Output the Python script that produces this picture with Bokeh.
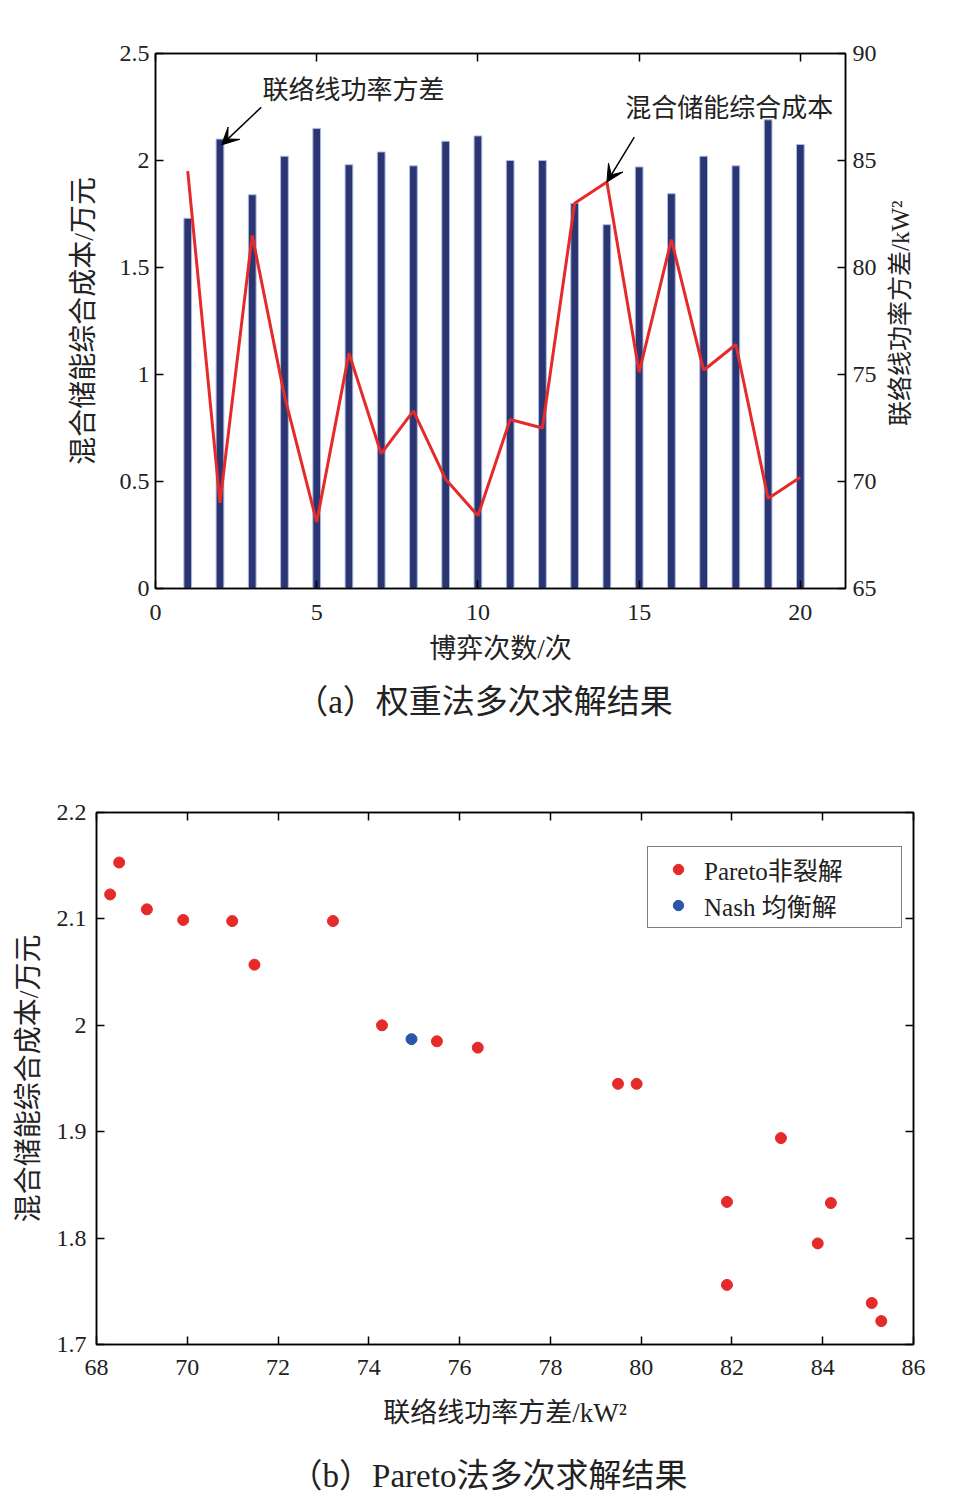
import math
from bokeh.plotting import figure
from bokeh.models import (Range1d, LinearAxis, FixedTicker, Arrow, VeeHead, Label,
                          Legend, LegendItem, CustomJSTickFormatter)
from bokeh.embed import file_html
from bokeh.resources import INLINE

# ---------------- data ----------------
games = list(range(1, 21))
cost_wan = [1.73, 2.10, 1.84, 2.02, 2.15, 1.98, 2.04, 1.975, 2.09, 2.115,
            2.00, 2.00, 1.80, 1.70, 1.97, 1.845, 2.02, 1.975, 2.19, 2.075]
variance_kw2 = [84.5, 69.0, 81.5, 74.0, 68.1, 76.0, 71.3, 73.3, 70.1, 68.4,
                72.9, 72.5, 83.0, 84.0, 75.1, 81.3, 75.2, 76.4, 69.2, 70.2]

pareto_var = [68.30, 68.50, 69.11, 69.91, 70.99, 71.48, 73.21, 74.29, 75.50, 76.40,
              79.49, 79.90, 83.08, 81.89, 84.18, 83.89, 81.89, 85.08, 85.29]
pareto_cost = [2.123, 2.153, 2.109, 2.099, 2.098, 2.057, 2.098, 2.000, 1.985, 1.979,
               1.945, 1.945, 1.894, 1.834, 1.833, 1.795, 1.756, 1.739, 1.722]
nash_var = [74.94]
nash_cost = [1.987]

a_x_ticks = [0, 5, 10, 15, 20]
a_y_ticks = [0, 0.5, 1, 1.5, 2, 2.5]
a_y_labels = ["0", "0.5", "1", "1.5", "2", "2.5"]
a_r_ticks = [65, 70, 75, 80, 85, 90]
b_x_ticks = [68, 70, 72, 74, 76, 78, 80, 82, 84, 86]
b_y_ticks = [1.7, 1.8, 1.9, 2.0, 2.1, 2.2]
b_y_labels = ["1.7", "1.8", "1.9", "2", "2.1", "2.2"]

FONT = "Liberation Serif, Noto Sans CJK SC"
BAR = "#2b3572"
BAR_EDGE = "#a9bde3"
RED = "#e52a2a"
BLUE = "#2a55a8"
TXT = "#222222"
NB = "\u00a0"


def style_axis(ax, show_labels=True, standoff=8, label_size="27px"):
    ax.axis_line_color = "black"
    ax.axis_line_width = 1.5
    ax.major_tick_in = 8
    ax.major_tick_out = 0
    ax.major_tick_line_color = "black"
    ax.major_tick_line_width = 1.5
    ax.minor_tick_line_color = None
    ax.major_label_text_font = FONT
    ax.major_label_text_color = TXT
    ax.major_label_standoff = standoff
    ax.major_label_text_font_size = "24px"
    if not show_labels:
        ax.formatter = CustomJSTickFormatter(code="return ''")
    ax.axis_label_text_font = FONT
    ax.axis_label_text_font_size = label_size
    ax.axis_label_text_font_style = "normal"
    ax.axis_label_text_color = TXT


def text_axis(text, size, standoff, **kw):
    """An axis with no line and no ticks that only carries a text."""
    ax = LinearAxis(ticker=FixedTicker(ticks=[]), **kw)
    ax.axis_line_color = None
    ax.major_tick_line_color = None
    ax.minor_tick_line_color = None
    ax.axis_label = text
    ax.axis_label_text_font = FONT
    ax.axis_label_text_font_size = size
    ax.axis_label_text_font_style = "normal"
    ax.axis_label_text_color = TXT
    ax.axis_label_standoff = standoff
    return ax


# ---------------- figure (a) ----------------
p1 = figure(width=950, height=745, output_backend="svg", toolbar_location=None,
            x_range=Range1d(0, 21.4), y_range=Range1d(0, 2.5),
            min_border_left=155, min_border_right=105, min_border_top=53,
            min_border_bottom=157)
p1.extra_y_ranges = {"var": Range1d(65, 90)}
p1.grid.visible = False
p1.outline_line_color = "black"
p1.outline_line_width = 1.5

p1.vbar(x=games, top=cost_wan, bottom=0, width=0.24, fill_color=BAR,
        line_color=BAR_EDGE, line_width=1)
p1.line(x=games, y=variance_kw2, y_range_name="var", line_color=RED, line_width=3)

xa = p1.xaxis[0]
xa.ticker = FixedTicker(ticks=a_x_ticks)
style_axis(xa, standoff=16)
xa.axis_label = "博弈次数/次"
xa.axis_label_standoff = 11

ya = p1.yaxis[0]
ya.ticker = FixedTicker(ticks=a_y_ticks)
ya.major_label_overrides = {t: l for t, l in zip(a_y_ticks, a_y_labels)}
style_axis(ya, standoff=6, label_size="28px")
ya.axis_label = "混合储能综合成本/万元"
ya.axis_label_standoff = 18

top1 = LinearAxis(ticker=FixedTicker(ticks=a_x_ticks))
style_axis(top1, show_labels=False, standoff=0)
p1.add_layout(top1, "above")

right1 = LinearAxis(y_range_name="var", ticker=FixedTicker(ticks=a_r_ticks))
style_axis(right1, standoff=7)
p1.add_layout(right1, "right")

rlab = text_axis(NB * 26 + "联络线功率方差/kW²", "25px", 21, y_range_name="var")
rlab.axis_label_orientation = math.pi / 2
try:
    rlab.axis_label_align = "start"
except Exception:
    pass
p1.add_layout(rlab, "right")

p1.add_layout(Arrow(end=VeeHead(size=17, fill_color="black", line_color="black"),
                    x_start=3.28, y_start=2.249, x_end=2.05, y_end=2.073,
                    line_color="black", line_width=1.5))
p1.add_layout(Arrow(end=VeeHead(size=17, fill_color="black", line_color="black"),
                    x_start=14.85, y_start=86.09, x_end=14.0, y_end=83.99,
                    y_range_name="var", line_color="black", line_width=1.5))
p1.add_layout(Label(x=3.32, y=2.327, text="联络线功率方差", text_font=FONT,
                    text_font_size="26px", text_baseline="middle", text_align="left",
                    text_color=TXT))
p1.add_layout(Label(x=14.57, y=2.243, text="混合储能综合成本", text_font=FONT,
                    text_font_size="26px", text_baseline="middle", text_align="left",
                    text_color=TXT))
p1.add_layout(text_axis("（a）权重法多次求解结果" + NB * 4, "33px", 17), "below")

# ---------------- figure (b) ----------------
p2 = figure(width=950, height=755, output_backend="svg", toolbar_location=None,
            x_range=Range1d(68, 86), y_range=Range1d(1.7, 2.2),
            min_border_left=96, min_border_right=37, min_border_top=67,
            min_border_bottom=156)
p2.grid.visible = False
p2.outline_line_color = "black"
p2.outline_line_width = 1.5

r_p = p2.scatter(x=pareto_var, y=pareto_cost, size=11, fill_color=RED, line_color=RED)
r_n = p2.scatter(x=nash_var, y=nash_cost, size=11, fill_color=BLUE, line_color=BLUE)

xb = p2.xaxis[0]
xb.ticker = FixedTicker(ticks=b_x_ticks)
style_axis(xb, standoff=15)
xb.axis_label = "联络线功率方差/kW²"
xb.axis_label_standoff = 20

yb = p2.yaxis[0]
yb.ticker = FixedTicker(ticks=b_y_ticks)
yb.major_label_overrides = {t: l for t, l in zip(b_y_ticks, b_y_labels)}
style_axis(yb, standoff=10, label_size="28px")
yb.axis_label = "混合储能综合成本/万元"
yb.axis_label_standoff = 10

top2 = LinearAxis(ticker=FixedTicker(ticks=b_x_ticks))
style_axis(top2, show_labels=False, standoff=0)
p2.add_layout(top2, "above")
right2 = LinearAxis(ticker=FixedTicker(ticks=b_y_ticks))
style_axis(right2, show_labels=False, standoff=0)
p2.add_layout(right2, "right")

legend = Legend(items=[LegendItem(label="Pareto非裂解", renderers=[r_p]),
                       LegendItem(label="Nash 均衡解", renderers=[r_n])],
                location=(551, 416), border_line_color="black", border_line_width=1.5,
                padding=4, spacing=0, margin=0, glyph_width=52, glyph_height=26,
                label_height=26, label_width=193, label_standoff=0,
                label_text_font=FONT, label_text_font_size="25px",
                label_text_color=TXT, background_fill_alpha=1)
p2.add_layout(legend)

p2.add_layout(text_axis("（b）Pareto法多次求解结果" + NB * 4, "33px", 27), "below")

open("out.html", "w").write(file_html([p1, p2], INLINE))
